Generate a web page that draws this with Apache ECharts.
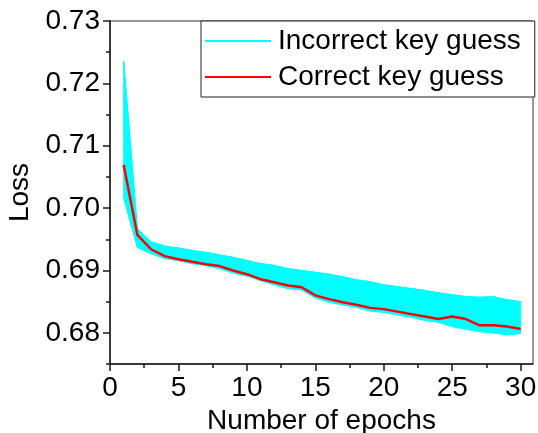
<!DOCTYPE html>
<html>
<head>
<meta charset="utf-8">
<script src="https://cdn.jsdelivr.net/npm/echarts@6/dist/echarts.min.js"></script>
<style>
  html, body { margin: 0; padding: 0; background: #fff; }
  #chart { width: 538px; height: 433px; }
</style>
</head>
<body>
<div id="chart"></div>
<script>
// Training loss per epoch for every key hypothesis
const epochs = [1, 2, 3, 4, 5, 6, 7, 8, 9, 10, 11, 12, 13, 14, 15,
                16, 17, 18, 19, 20, 21, 22, 23, 24, 25, 26, 27, 28, 29, 30];

// Loss of the correct key guess
const correctLoss = [0.7069, 0.6957, 0.6934, 0.6923, 0.6918, 0.6914, 0.6910, 0.6907, 0.6900, 0.6894,
                     0.6886, 0.6881, 0.6876, 0.6873, 0.6860, 0.6854, 0.6849, 0.6845, 0.6840, 0.6838,
                     0.6834, 0.6830, 0.6826, 0.6822, 0.6826, 0.6822, 0.6812, 0.6812, 0.6810, 0.6806];

// Upper and lower envelope of the incorrect key guesses
const incorrectUpper = [0.7235, 0.6967, 0.6946, 0.6939, 0.6936, 0.6932, 0.6929, 0.6925, 0.6921, 0.6916,
                        0.6911, 0.6908, 0.6903, 0.6900, 0.6897, 0.6894, 0.6890, 0.6885, 0.6882, 0.6877,
                        0.6874, 0.6871, 0.6868, 0.6864, 0.6861, 0.6858, 0.6857, 0.6858, 0.6853, 0.6850];
const incorrectLower = [0.7017, 0.6937, 0.6927, 0.6919, 0.6916, 0.6911, 0.6908, 0.6903, 0.6896, 0.6891,
                        0.6884, 0.6877, 0.6871, 0.6869, 0.6856, 0.6849, 0.6845, 0.6841, 0.6835, 0.6833,
                        0.6829, 0.6825, 0.6820, 0.6817, 0.6810, 0.6806, 0.6802, 0.6800, 0.6797, 0.6799];

// Tick positions and labels
const xLabels = [0, 5, 10, 15, 20, 25, 30];
const xMinorTicks = [2.5, 7.5, 12.5, 17.5, 22.5, 27.5];
const yLabels = [0.68, 0.69, 0.70, 0.71, 0.72, 0.73];
const yMinorTicks = [0.675, 0.685, 0.695, 0.705, 0.715, 0.725];

const FONT = "'Liberation Sans', Arial, sans-serif";
const AXIS_COLOR = '#1a1a1a';
const CYAN = '#00ffff';
const RED = '#ff0000';

const pairs = (vals) => epochs.map((e, i) => [e, vals[i]]);
// one row per epoch step: x, upper, lower, next x, next upper, next lower
const bandRows = epochs.slice(0, -1).map((e, i) => [
  e, incorrectUpper[i], incorrectLower[i],
  epochs[i + 1], incorrectUpper[i + 1], incorrectLower[i + 1]
]);

const chart = echarts.init(document.getElementById('chart'), null, { renderer: 'canvas' });

const xBase = { type: 'value', min: 0, max: 30.9, splitLine: { show: false } };
const yBase = { type: 'value', min: 0.675, max: 0.73, splitLine: { show: false } };

chart.setOption({
  animation: false,
  backgroundColor: '#fff',
  grid: {
    left: 110, right: 5, top: 21, bottom: 69,
    show: true, borderColor: '#333', borderWidth: 1,
    containLabel: false, outerBoundsMode: 'none'
  },
  legend: {
    orient: 'vertical',
    left: 201, top: 21,
    backgroundColor: '#fff',
    borderColor: '#222', borderWidth: 1, borderRadius: 0,
    padding: [5, 14, 5, 4],
    itemWidth: 66, itemHeight: 2, itemGap: 6,
    icon: 'rect',
    textStyle: { fontSize: 28, fontFamily: FONT, color: '#000', lineHeight: 30, padding: [0, 0, 0, 2] },
    data: ['Incorrect key guess', 'Correct key guess']
  },
  xAxis: [
    Object.assign({}, xBase, {
      position: 'bottom',
      axisLine: { show: true, lineStyle: { color: AXIS_COLOR, width: 1.5 } },
      axisTick: { show: true, customValues: xLabels, length: 7, lineStyle: { color: AXIS_COLOR, width: 1.5 } },
      axisLabel: { customValues: xLabels, fontSize: 28, fontFamily: FONT, color: '#000', margin: 10 },
      name: 'Number of epochs', nameLocation: 'middle', nameGap: 41,
      nameTextStyle: { fontSize: 28, fontFamily: FONT, color: '#000' }
    }),
    Object.assign({}, xBase, {
      position: 'bottom',
      axisLine: { show: false },
      axisTick: { show: true, customValues: xMinorTicks, length: 4, lineStyle: { color: AXIS_COLOR, width: 1.5 } },
      axisLabel: { show: false }
    })
  ],
  yAxis: [
    Object.assign({}, yBase, {
      position: 'left',
      axisLine: { show: true, lineStyle: { color: AXIS_COLOR, width: 1.5 } },
      axisTick: { show: true, customValues: yLabels, length: 7, lineStyle: { color: AXIS_COLOR, width: 1.5 } },
      axisLabel: {
        customValues: yLabels, fontSize: 28, fontFamily: FONT, color: '#000', margin: 10,
        formatter: (v) => v.toFixed(2)
      },
      name: 'Loss', nameLocation: 'middle', nameGap: 71, nameRotate: 90,
      nameTextStyle: { fontSize: 28, fontFamily: FONT, color: '#000' }
    }),
    Object.assign({}, yBase, {
      position: 'left',
      axisLine: { show: false },
      axisTick: { show: true, customValues: yMinorTicks, length: 4, lineStyle: { color: AXIS_COLOR, width: 1.5 } },
      axisLabel: { show: false }
    })
  ],
  series: [
    {
      // filled spread between the incorrect-guess envelopes, one quad per epoch step
      name: 'incorrect-spread',
      type: 'custom',
      data: bandRows,
      encode: { x: [0, 3], y: [1, 2, 4, 5] },
      silent: true,
      z: 1,
      renderItem: (params, api) => {
        const p1 = api.coord([api.value(0), api.value(1)]);
        const p2 = api.coord([api.value(3), api.value(4)]);
        const p3 = api.coord([api.value(3), api.value(5)]);
        const p4 = api.coord([api.value(0), api.value(2)]);
        return {
          type: 'polygon',
          shape: { points: [p1, p2, p3, p4] },
          style: { fill: CYAN, stroke: CYAN, lineWidth: 1 }
        };
      }
    },
    {
      name: 'Incorrect key guess',
      type: 'line',
      data: pairs(incorrectUpper),
      symbol: 'none',
      lineStyle: { color: CYAN, width: 1 },
      itemStyle: { color: CYAN },
      z: 2,
      silent: true
    },
    {
      name: 'Incorrect key guess',
      type: 'line',
      data: pairs(incorrectLower),
      symbol: 'none',
      lineStyle: { color: CYAN, width: 1 },
      itemStyle: { color: CYAN },
      z: 2,
      silent: true
    },
    {
      name: 'Correct key guess',
      type: 'line',
      data: pairs(correctLoss),
      symbol: 'none',
      lineStyle: { color: RED, width: 2.5 },
      itemStyle: { color: RED },
      z: 3,
      silent: true
    }
  ]
});
</script>
</body>
</html>
